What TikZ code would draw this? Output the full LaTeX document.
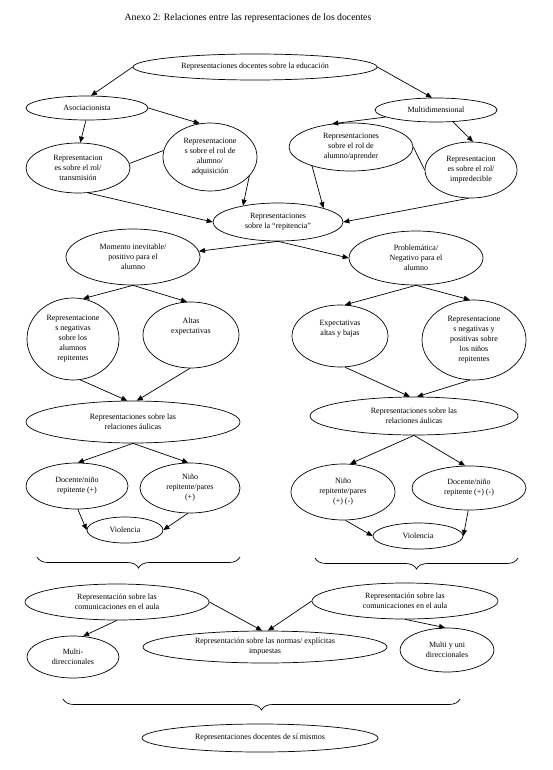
\documentclass[tikz,border=0pt]{standalone}
\usepackage{fontspec}
\setmainfont{Liberation Serif}
\usetikzlibrary{arrows.meta,shapes.geometric,decorations.pathreplacing}
\begin{document}
\begin{tikzpicture}[x=1pt,y=-1pt,
  el/.style={draw, ellipse, line width=0.7pt, inner sep=0pt, align=center, font=\fontsize{8}{10}\selectfont},
  arr/.style={line width=0.7pt, -{Triangle[length=6pt,width=5pt]}},
  ln/.style={line width=0.7pt},
  br/.style={line width=0.7pt, decorate, decoration={brace, mirror, amplitude=11pt}}]
\useasboundingbox (0,0) rectangle (553,770);
\node[font=\fontsize{9.75}{12}\selectfont] (title) at (248,18) {Anexo 2: Relaciones entre las representaciones de los docentes};
% nodes
\node[el, minimum width=244, minimum height=26] (T) at (255,67) {Representaciones docentes sobre la educación};
\node[el, minimum width=122, minimum height=24] (As) at (87,108) {Asociacionista};
\node[el, minimum width=122, minimum height=24] (Mu) at (436,110) {Multidimensional};
\node[el, minimum width=94, minimum height=68] (A4) at (210,157) {Representacione\\s sobre el rol de\\alumno/\\adquisición};
\node[el, minimum width=104, minimum height=50] (A5) at (78,168) {Representacion\\es sobre el rol/\\transmisión};
\node[el, minimum width=124, minimum height=48] (A7) at (351,147) {Representaciones\\sobre el rol de\\alumno/aprender};
\node[el, minimum width=92, minimum height=56] (A8) at (471,170) {Representacion\\es sobre el rol/\\impredecible};
\node[el, minimum width=130, minimum height=38] (Rep) at (278,222) {Representaciones\\sobre la “repitencia”};
\node[el, minimum width=134, minimum height=56] (M9) at (133,257) {Momento inevitable/\\positivo para el\\alumno};
\node[el, minimum width=134, minimum height=54] (P10) at (416,258) {Problemática/\\Negativo para el\\alumno};
\node[el, minimum width=92, minimum height=82] (N11) at (73,339) {Representacione\\s negativas\\sobre los\\alumnos\\repitentes};
\node[el, minimum width=96, minimum height=66] (Al12) at (191,335) {Altas\\expectativas\\[8pt]};
\node[el, minimum width=214, minimum height=42] (Rl13) at (133,422) {Representaciones sobre las\\relaciones áulicas};
\node[el, minimum width=96, minimum height=62] (Ex14) at (340,336) {Expectativas\\altas y bajas\\[6pt]};
\node[el, minimum width=104, minimum height=80] (N15) at (474,340) {Representacione\\s negativas y\\positivas sobre\\los niños\\repitentes};
\node[el, minimum width=208, minimum height=38] (Rr16) at (414,416) {Representaciones sobre las\\relaciones áulicas};
\node[el, minimum width=102, minimum height=46] (D17) at (77,486) {Docente/niño\\repitente (+)};
\node[el, minimum width=100, minimum height=50] (N18) at (190,488) {Niño\\repitente/pares\\(+)};
\node[el, minimum width=76, minimum height=26] (V19) at (125,530) {Violencia};
\node[el, minimum width=104, minimum height=56] (N20) at (343,492) {Niño\\repitente/pares\\(+) (-)};
\node[el, minimum width=114, minimum height=44] (D21) at (469,488) {Docente/niño\\repitente (+) (-)};
\node[el, minimum width=90, minimum height=26] (V22) at (418,536) {Violencia};
\node[el, minimum width=184, minimum height=36] (C23) at (117,602) {Representación sobre las\\comunicaciones en el aula};
\node[el, minimum width=186, minimum height=36] (C24) at (405,601) {Representación sobre las\\comunicaciones en el aula};
\node[el, minimum width=244, minimum height=32] (Nm25) at (265,647) {Representación sobre las normas/ explícitas\\impuestas};
\node[el, minimum width=92, minimum height=42] (Md26) at (73,657) {Multi-\\direccionales};
\node[el, minimum width=94, minimum height=44] (Mu27) at (447,650) {Multi y uni\\direccionales};
\node[el, minimum width=236, minimum height=28] (S28) at (260,738) {Representaciones docentes de sí mismos};
% connectors
\draw[arr] (T.west) -- (As.72);
\draw[arr] (T.east) -- (Mu.108);
\draw[arr] (As.east) -- (A4.107);
\draw[arr] (As.265) -- (A5.85);
\draw[ln] (A4.172) -- (A5.5);
\draw[arr] (A5.292) -- (Rep.west);
\draw[arr] (A4.334) -- (Rep.155);
\draw[arr] (Mu.188) -- (A7.129);
\draw[arr] (Mu.325) -- (A8.86);
\draw[ln] (A7.east) -- (A8.west);
\draw[arr] (A7.206) -- (Rep.17);
\draw[arr] (A8.265) -- (Rep.east);
\draw[arr] (Rep.south) -- (M9.5);
\draw[arr] (Rep.south) -- (P10.west);
\draw[arr] (M9.south) -- (N11.76);
\draw[arr] (M9.south) -- (Al12.97);
\draw[arr] (N11.280) -- (Rl13.105);
\draw[arr] (Al12.268) -- (Rl13.80);
\draw[arr] (P10.south) -- (Ex14.81);
\draw[arr] (P10.south) -- (N15.96);
\draw[arr] (Ex14.279) -- (Rr16.102);
\draw[arr] (N15.264) -- (Rr16.81);
\draw[arr] (Rl13.south) -- (D17.88);
\draw[arr] (Rl13.south) -- (N18.94);
\draw[arr] (D17.272) -- (V19.west);
\draw[arr] (N18.265) -- (V19.east);
\draw[arr] (Rr16.south) -- (N20.76);
\draw[arr] (Rr16.south) -- (D21.100);
\draw[arr] (N20.275) -- (V22.west);
\draw[arr] (D21.268) -- (V22.east);
\draw[arr] (C23.east) -- (Nm25.100);
\draw[arr] (C24.west) -- (Nm25.80);
\draw[arr] (C23.270) -- (Md26.64);
\draw[arr] (C24.270) -- (Mu27.95);
% braces
\draw[br] (37,557) -- (240,557);
\draw[br] (315,558) -- (518,558);
\draw[br] (63,699) -- (460,699);
\end{tikzpicture}
\end{document}
